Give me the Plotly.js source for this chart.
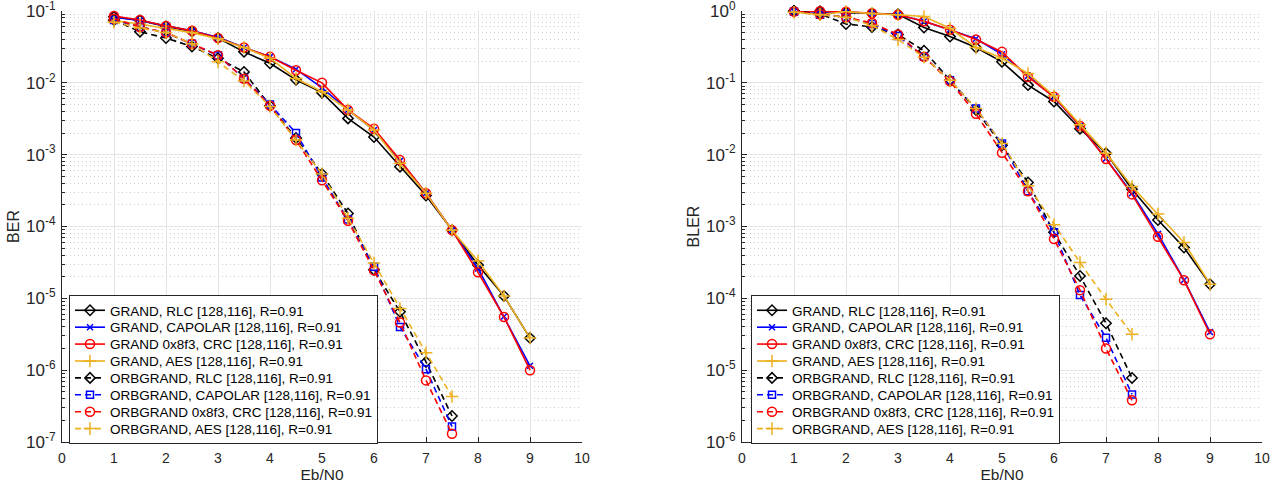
<!DOCTYPE html>
<html>
<head>
<meta charset="utf-8">
<script src="https://cdn.plot.ly/plotly-3.0.1.min.js"></script>
<style>
html,body{margin:0;padding:0;background:#fff;}
#chart{width:1281px;height:487px;}
</style>
</head>
<body>
<div id="chart"></div>
<script>
// ---- Data ----
const snrGrand = [1, 1.5, 2, 2.5, 3, 3.5, 4, 4.5, 5, 5.5, 6, 6.5, 7, 7.5, 8, 8.5, 9];
const snrOrb   = [1, 1.5, 2, 2.5, 3, 3.5, 4, 4.5, 5, 5.5, 6, 6.5, 7, 7.5];

const seriesNames = [
  "GRAND, RLC [128,116], R=0.91",
  "GRAND, CAPOLAR [128,116], R=0.91",
  "GRAND 0x8f3, CRC [128,116], R=0.91",
  "GRAND, AES [128,116], R=0.91",
  "ORBGRAND, RLC [128,116], R=0.91",
  "ORBGRAND, CAPOLAR [128,116], R=0.91",
  "ORBGRAND 0x8f3, CRC [128,116], R=0.91",
  "ORBGRAND, AES [128,116], R=0.91"
];

// BER (left)
const berGrandRLC     = [0.083, 0.074, 0.061, 0.052, 0.042, 0.027, 0.0187, 0.011, 0.0073, 0.0032, 0.00176, 0.00068, 0.00027, 8.9e-5, 2.9e-5, 1.08e-5, 2.8e-6];
const berGrandCAPOLAR = [0.082, 0.074, 0.062, 0.053, 0.043, 0.031, 0.023, 0.0155, 0.0085, 0.0042, 0.0022, 0.00082, 0.00029, 8.9e-5, 2.6e-5, 5.6e-6, 1.15e-6];
const berGrandCRC     = [0.085, 0.075, 0.062, 0.053, 0.042, 0.031, 0.023, 0.015, 0.0100, 0.0042, 0.0023, 0.00084, 0.00029, 8.9e-5, 2.3e-5, 5.5e-6, 1.0e-6];
const berGrandAES     = [0.073, 0.066, 0.057, 0.050, 0.041, 0.031, 0.022, 0.0115, 0.0075, 0.0042, 0.0022, 0.00076, 0.00029, 8.9e-5, 3.3e-5, 1.08e-5, 2.8e-6];
const berOrbRLC       = [0.075, 0.0515, 0.042, 0.032, 0.022, 0.0142, 0.0048, 0.0017, 0.00054, 1.52e-4, 2.5e-5, 6.5e-6, 1.3e-6, 2.3e-7];
const berOrbCAPOLAR   = [0.075, 0.060, 0.050, 0.035, 0.024, 0.0115, 0.005, 0.0020, 0.00048, 1.25e-4, 2.75e-5, 4.0e-6, 1.03e-6, 1.64e-7];
const berOrbCRC       = [0.078, 0.060, 0.050, 0.035, 0.0243, 0.0114, 0.0048, 0.0016, 0.00044, 1.2e-4, 2.45e-5, 4.6e-6, 7.2e-7, 1.3e-7];
const berOrbAES       = [0.070, 0.058, 0.050, 0.035, 0.0196, 0.0106, 0.0047, 0.0016, 0.00054, 1.3e-4, 3.1e-5, 7.2e-6, 1.75e-6, 4.3e-7];

// BLER (right)
const blerGrandRLC     = [1.0, 0.99, 0.95, 0.92, 0.90, 0.59, 0.44, 0.31, 0.196, 0.093, 0.055, 0.023, 0.0105, 0.0033, 0.00123, 5.1e-4, 1.57e-4];
const blerGrandCAPOLAR = [0.99, 0.96, 0.97, 0.93, 0.885, 0.72, 0.55, 0.41, 0.25, 0.125, 0.063, 0.025, 0.0088, 0.0029, 7.9e-4, 1.8e-4, 3.4e-5];
const blerGrandCRC     = [0.99, 0.99, 0.98, 0.93, 0.885, 0.72, 0.547, 0.40, 0.27, 0.121, 0.064, 0.025, 0.0087, 0.0028, 7.2e-4, 1.79e-4, 3.16e-5];
const blerGrandAES     = [0.97, 0.89, 0.98, 0.92, 0.885, 0.84, 0.575, 0.31, 0.22, 0.135, 0.066, 0.026, 0.0105, 0.0036, 0.00149, 6.0e-4, 1.57e-4];
const blerOrbRLC       = [1.0, 0.91, 0.66, 0.60, 0.47, 0.28, 0.109, 0.042, 0.0135, 0.0041, 8.3e-4, 2.05e-4, 4.5e-5, 7.8e-6];
const blerOrbCAPOLAR   = [0.98, 0.89, 0.82, 0.66, 0.45, 0.23, 0.109, 0.044, 0.0143, 0.0031, 8.3e-4, 1.11e-4, 2.83e-5, 4.6e-6];
const blerOrbCRC       = [0.98, 0.90, 0.82, 0.68, 0.47, 0.23, 0.105, 0.037, 0.0106, 0.0031, 6.7e-4, 1.3e-4, 2.0e-5, 3.8e-6];
const blerOrbAES       = [0.96, 0.89, 0.82, 0.63, 0.40, 0.227, 0.109, 0.044, 0.0143, 0.0037, 1.06e-3, 3.15e-4, 9.7e-5, 3.16e-5];

// Tick labels
const berTickExp  = [-7, -6, -5, -4, -3, -2, -1];
const blerTickExp = [-6, -5, -4, -3, -2, -1, 0];

// ---- Styles ----
const colors  = ["#000000", "#0000FF", "#FF0000", "#EDB120", "#000000", "#0000FF", "#FF0000", "#EDB120"];
const symbols = ["diamond-open", "x-thin-open", "circle-open", "cross-thin-open", "diamond-open", "square-open", "circle-open", "cross-thin-open"];
const sizes   = [8, 6, 9, 9, 8, 7, 9, 9];

const berData  = [berGrandRLC, berGrandCAPOLAR, berGrandCRC, berGrandAES, berOrbRLC, berOrbCAPOLAR, berOrbCRC, berOrbAES];
const blerData = [blerGrandRLC, blerGrandCAPOLAR, blerGrandCRC, blerGrandAES, blerOrbRLC, blerOrbCAPOLAR, blerOrbCRC, blerOrbAES];

function makeTrace(i, y, xa, ya, leg) {
  const orb = i >= 4;
  return {
    x: orb ? snrOrb : snrGrand,
    y: y,
    name: seriesNames[i],
    type: "scatter",
    mode: "lines+markers",
    xaxis: xa, yaxis: ya,
    legend: leg,
    cliponaxis: false,
    line: {color: colors[i], width: 1.6, dash: orb ? "6px,4px" : "solid"},
    marker: {symbol: symbols[i], size: sizes[i], color: colors[i], line: {color: colors[i], width: 1.5}}
  };
}

const traces = [];
for (let i = 0; i < 8; i++) traces.push(makeTrace(i, berData[i], "x", "y", "legend"));
for (let i = 0; i < 8; i++) traces.push(makeTrace(i, blerData[i], "x2", "y2", "legend2"));

const W = 1281;
const fontFam = "Liberation Sans, Arial, Helvetica, sans-serif";
const tickFont = {family: fontFam, size: 14, color: "#262626"};
const yTickFont = {family: fontFam, size: 17, color: "#262626"};

function xAxis(domain, anchor) {
  return {
    domain: domain, anchor: anchor,
    range: [0, 10], dtick: 1, tick0: 0,
    showline: true, linecolor: "#262626", linewidth: 1,
    mirror: false,
    ticks: "inside", ticklen: 5, tickcolor: "#262626",
    ticklabelstandoff: 3,
    ticklabeloverflow: "allow",
    showgrid: true, gridcolor: "#e3e3e3", gridwidth: 1,
    zeroline: false,
    tickfont: tickFont,
    title: {text: "Eb/N0", font: {family: fontFam, size: 15.5, color: "#262626"}, standoff: 2}
  };
}
function yAxis(exps, anchor, titleText) {
  const minorVals = [];
  for (let k = 0; k < exps.length - 1; k++) {
    for (let m = 2; m <= 9; m++) minorVals.push(m * Math.pow(10, exps[k]));
  }
  return {
    type: "log", range: [exps[0], exps[exps.length - 1]],
    tickmode: "array",
    tickvals: exps.map(e => Math.pow(10, e)),
    ticktext: exps.map(e => "10<sup>" + e + "</sup>"),
    anchor: anchor,
    domain: [0, 1],
    showline: true, linecolor: "#262626", linewidth: 1,
    ticks: "inside", ticklen: 5, tickcolor: "#262626",
    ticklabelstandoff: 2,
    ticklabeloverflow: "allow",
    showgrid: true, gridcolor: "#e3e3e3", gridwidth: 1,
    minor: {tickmode: "array", tickvals: minorVals, ticks: "inside", ticklen: 3, tickcolor: "#262626",
            showgrid: true, gridcolor: "#cfcfcf", griddash: "1px,3px", gridwidth: 1},
    zeroline: false,
    tickfont: yTickFont,
    title: {text: titleText, font: {family: fontFam, size: 16, color: "#262626"}, standoff: 2}
  };
}

function legendCfg(xpx) {
  return {
    x: xpx / W, xanchor: "left",
    y: (442 - 295) / 431, yanchor: "top",
    bgcolor: "#ffffff",
    bordercolor: "#262626", borderwidth: 1,
    font: {family: fontFam, size: 13.5, color: "#000"},
    tracegroupgap: 0,
    itemwidth: 30
  };
}

const layout = {
  width: 1281, height: 487,
  margin: {l: 0, r: 0, t: 11, b: 45},
  paper_bgcolor: "#ffffff", plot_bgcolor: "#ffffff",
  showlegend: true,
  xaxis: xAxis([62 / W, 582 / W], "y"),
  yaxis: yAxis(berTickExp, "x", "BER"),
  xaxis2: xAxis([742 / W, 1262 / W], "y2"),
  yaxis2: yAxis(blerTickExp, "x2", "BLER"),
  legend: legendCfg(69),
  legend2: legendCfg(751)
};

// Tighten legend row pitch to match the reference (Plotly has a 19px minimum row)
function tightenLegends(gd) {
  const pitch = 16.9;
  gd.querySelectorAll(".infolayer > g").forEach(lg => {
    const items = lg.querySelectorAll("g.traces");
    const bg = lg.querySelector("rect.bg");
    if (items.length < 2 || !bg) return;
    const pos = Array.from(items).map(el => {
      const m = /translate\(\s*([-\d.e]+)[ ,]+([-\d.e]+)/.exec(el.getAttribute("transform") || "");
      return m ? [parseFloat(m[1]), parseFloat(m[2])] : [0, 0];
    });
    const y0 = pos[0][1];
    const oldPitch = (pos[pos.length - 1][1] - y0) / (pos.length - 1);
    const shift = -1;
    items.forEach((el, i) => el.setAttribute("transform", "translate(" + pos[i][0] + "," + (y0 + shift + i * pitch) + ")"));
    const h = parseFloat(bg.getAttribute("height"));
    const newH = h - (oldPitch - pitch) * (pos.length - 1) - 2;
    bg.setAttribute("height", newH);
  });
}

Plotly.newPlot("chart", traces, layout, {staticPlot: true, displayModeBar: false}).then(tightenLegends);
</script>
</body>
</html>
